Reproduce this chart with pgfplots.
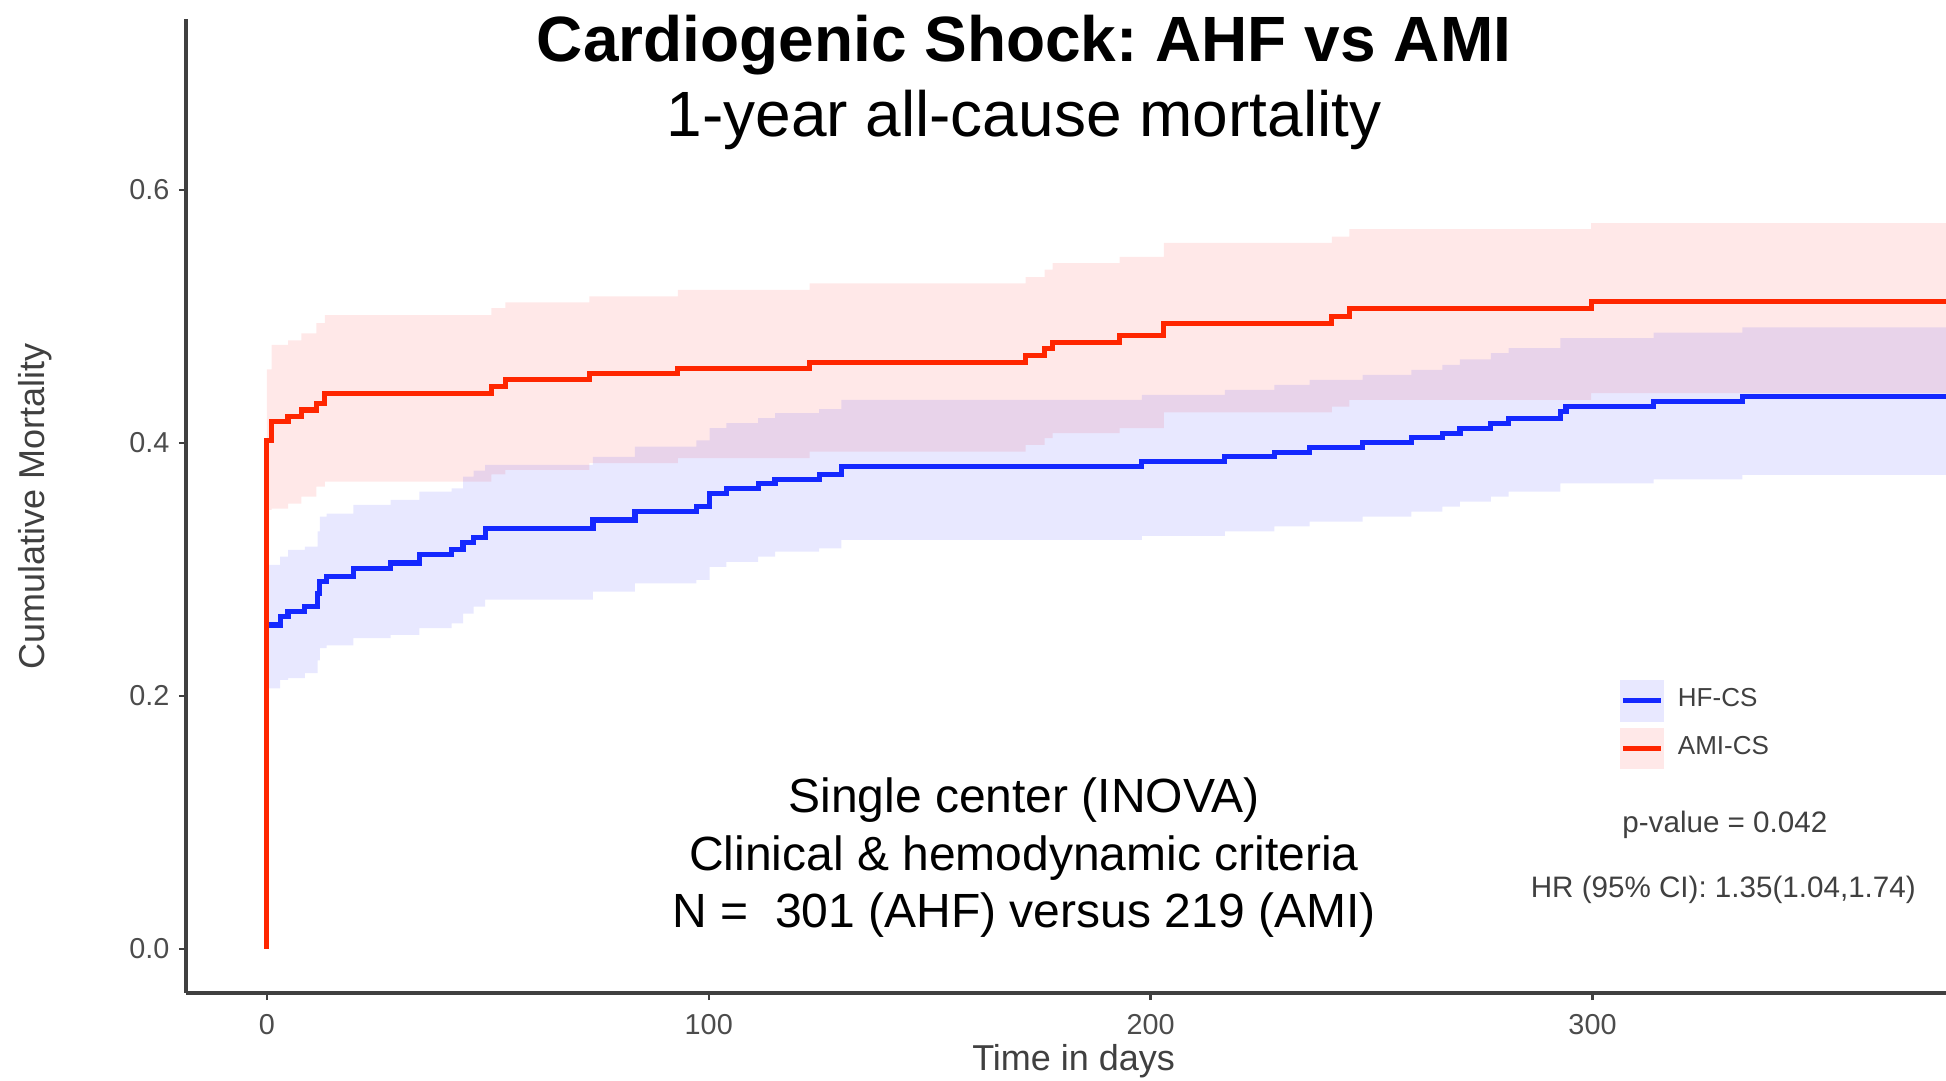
\documentclass[border=0pt]{standalone}
\usepackage{fontspec}
\setmainfont{Liberation Sans}
\usepackage{pgfplots}
\pgfplotsset{compat=1.18}
\usepgfplotslibrary{fillbetween}
\usepackage{pgfplotstable}
\frenchspacing

\definecolor{amicol}{RGB}{255,38,0}
\definecolor{hfcol}{RGB}{20,40,255}
\definecolor{amiband}{RGB}{255,232,232}
\definecolor{hfband}{RGB}{232,232,255}

% AMI-CS: time, estimate, lower CI, upper CI
\pgfplotstableread{
t est lo hi
0 0 0.347 0.458
0 0.402 0.347 0.458
1.06 0.417 0.348 0.4775
4.8 0.421 0.352 0.481
7.8 0.426 0.3575 0.4866
11.2 0.4314 0.3655 0.4946
13.1 0.439 0.3694 0.501
50.8 0.4445 0.375 0.5064
54 0.450 0.3787 0.511
73 0.455 0.384 0.5157
93 0.459 0.388 0.521
122.8 0.4638 0.393 0.526
171.7 0.4688 0.3984 0.531
176 0.4748 0.4037 0.537
177.8 0.4796 0.4076 0.542
193 0.4846 0.4116 0.547
203 0.4946 0.424 0.558
241 0.4999 0.4287 0.563
245 0.506 0.434 0.569
299.7 0.5117 0.4393 0.5736
380 0.5117 0.4393 0.5736
}\amitab

% HF-CS: time, estimate, lower CI, upper CI
\pgfplotstableread{
t est lo hi
0 0 0.206 0.3036
0 0.2561 0.206 0.3036
3 0.2627 0.2126 0.310
4.8 0.2667 0.214 0.3154
8.6 0.2706 0.218 0.318
11.5 0.281 0.228 0.330
12 0.2904 0.2377 0.3417
13.5 0.2943 0.240 0.344
19.6 0.301 0.2456 0.351
28 0.305 0.2482 0.355
34.5 0.3115 0.2535 0.3615
41.8 0.3154 0.2574 0.364
44.4 0.3212 0.265 0.3733
46.8 0.3254 0.2706 0.378
49.4 0.3325 0.276 0.3826
73.8 0.339 0.2825 0.389
83.3 0.3457 0.289 0.397
97.2 0.3496 0.2917 0.402
100.2 0.360 0.302 0.4116
104 0.3641 0.306 0.4155
111.2 0.3676 0.310 0.4195
115 0.3712 0.314 0.4234
125 0.3747 0.3167 0.4266
130 0.3813 0.3233 0.434
198 0.3852 0.3265 0.438
216.8 0.3892 0.330 0.4419
228 0.3926 0.3339 0.4458
236 0.3965 0.3378 0.4498
248 0.400 0.3417 0.4538
259 0.4042 0.3457 0.4577
266 0.4076 0.3496 0.4617
270 0.4116 0.3536 0.466
277 0.4155 0.3575 0.471
281 0.4195 0.3615 0.4748
292.7 0.4248 0.368 0.4827
294 0.429 0.368 0.4827
313.8 0.4327 0.3712 0.4872
333.9 0.4366 0.3747 0.4912
380 0.4366 0.3747 0.4912
}\hftab

\begin{document}
\begin{tikzpicture}
\begin{axis}[
  at={(46.5pt,21.75pt)}, anchor=south west,
  scale only axis, width=440pt, height=243.5pt,
  xmin=-18.3, xmax=380, ymin=-0.0348, ymax=0.735,
  axis x line*=bottom, axis y line*=left,
  axis line style={draw=black!75, line width=0.8pt, -},
  tick align=outside, major tick length=1.8pt,
  tick style={draw=black!75, line width=0.6pt},
  xtick={0,100,200,300}, ytick={0,0.2,0.4,0.6},
  /pgf/number format/assume math mode=true,
  yticklabel style={/pgf/number format/.cd, fixed, fixed zerofill, precision=1, /tikz/.cd, xshift=1.2pt},
  ticklabel style={font=\fontsize{7.2}{9}\selectfont, text=black!70},
  legend style={at={(axis cs:306.3,0.2125)}, anchor=north west, draw=none, fill=none,
    inner sep=0pt, outer sep=0pt, row sep=1.5pt,
    font=\fontsize{6.5}{8}\selectfont, text=black!75,
    nodes={inner sep=0pt}},
  legend cell align=left,
  /tikz/every odd column/.append style={column sep=3.5pt},
]
% confidence bands
\addplot[name path=ahi, draw=none, const plot, forget plot] table[x=t,y=hi]{\amitab};
\addplot[name path=alo, draw=none, const plot, forget plot] table[x=t,y=lo]{\amitab};
\addplot[name path=hhi, draw=none, const plot, forget plot] table[x=t,y=hi]{\hftab};
\addplot[name path=hlo, draw=none, const plot, forget plot] table[x=t,y=lo]{\hftab};
\addplot[fill=red, fill opacity=0.09, draw=none, forget plot] fill between[of=ahi and alo];
\addplot[fill=blue, fill opacity=0.09, draw=none, forget plot] fill between[of=hhi and hlo];
% survival curves
\addplot[hfcol, line width=1.3pt, const plot, forget plot] table[x=t,y=est]{\hftab};
\addplot[amicol, line width=1.3pt, const plot, forget plot] table[x=t,y=est]{\amitab};
% legend
\addlegendimage{legend image code/.code={\fill[hfband] (0pt,-5pt) rectangle (10.5pt,5pt); \draw[hfcol, line width=1.2pt] (0.4pt,0pt) -- (10pt,0pt);}}
\addlegendentry{HF-CS}
\addlegendimage{legend image code/.code={\fill[amiband] (0pt,-5pt) rectangle (10.5pt,5pt); \draw[amicol, line width=1.2pt] (0.4pt,0pt) -- (10pt,0pt);}}
\addlegendentry{AMI-CS}
\end{axis}
% titles and annotations
\node[anchor=base, font=\fontsize{16}{19}\selectfont\bfseries] at (256pt,254.5pt) {Cardiogenic Shock: AHF vs AMI};
\node[anchor=base, font=\fontsize{16}{19}\selectfont] at (256pt,235.75pt) {1-year all-cause mortality};
\node[anchor=base, font=\fontsize{12}{14}\selectfont] at (256pt,66.75pt) {Single center (INOVA)};
\node[anchor=base, font=\fontsize{12}{14}\selectfont] at (256pt,52.25pt) {Clinical \& hemodynamic criteria};
\node[anchor=base, font=\fontsize{12}{14}\selectfont] at (256pt,38pt) {N =\ \ 301 (AHF) versus 219 (AMI)};
\node[anchor=west, inner sep=0pt, font=\fontsize{7.4}{9}\selectfont, text=black!75] at (405.4pt,63.75pt) {p-value = 0.042};
\node[anchor=west, inner sep=0pt, font=\fontsize{7.4}{9}\selectfont, text=black!75] at (382.5pt,47.5pt) {HR (95\% CI): 1.35(1.04,1.74)};
\node[rotate=90, font=\fontsize{9}{11}\selectfont, text=black!75] at (8.75pt,143.5pt) {Cumulative Mortality};
\node[anchor=base, font=\fontsize{9}{11}\selectfont, text=black!75] at (268.4pt,2.3pt) {Time in days};
\pgfresetboundingbox
\useasboundingbox (0pt,0pt) rectangle (486.5pt,270pt);
\end{tikzpicture}
\end{document}
